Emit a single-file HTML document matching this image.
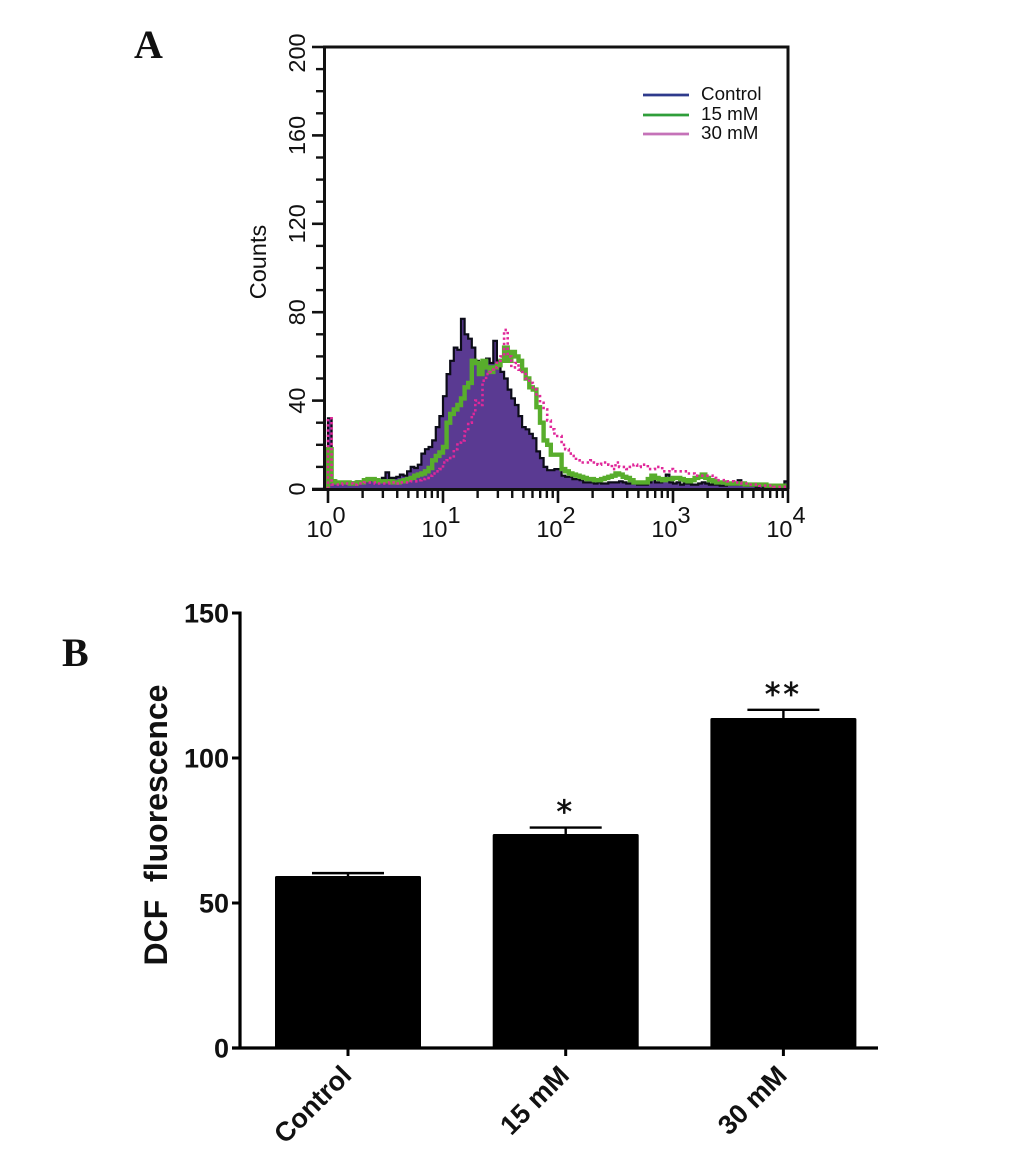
<!DOCTYPE html>
<html lang="en">
<head>
<meta charset="utf-8">
<title>DCF fluorescence flow cytometry chart</title>
<style>
  html, body { margin: 0; padding: 0; background: #fff; }
  svg { display: block; }
  text { font-family: "Liberation Sans", sans-serif; fill: #111; }
</style>
</head>
<body>
<svg id="chart" width="1033" height="1176" viewBox="0 0 1033 1176" xmlns="http://www.w3.org/2000/svg">
  <rect x="0" y="0" width="1033" height="1176" fill="#fff"/>
  <text x="134" y="58" style="font-family:'Liberation Serif',serif;font-weight:bold;font-size:40px">A</text>
  <text x="62" y="666" style="font-family:'Liberation Serif',serif;font-weight:bold;font-size:40px">B</text>
  <g id="panelA"></g>
  <g id="panelB"></g>
</svg>
<script>
// Panel A: histogram counts per channel (32 channels per decade)
const controlCounts = [32,4,3,3,3,3,3,3,3.5,3,3.5,4,4,4.5,3.5,5,7.5,5,5,5.5,6.5,6,8,10,9.5,11,16,18,19,22,28,33,42,52,58,64,63,77,70,68,64,58,57,56,59,57,67,58,53,50,45,41,38,33,28,27,25,23,17,14,10,8.5,8.5,9,9,6,5.5,5.5,4.5,4.5,4,3,3,3,2.5,3,2.5,2.5,3,3,3,3.5,3,2.5,2.5,2.5,2,2,2,3,5,3,3,4,6.5,3,2.5,3,2,2.5,2.5,2,2,2.5,3,2.5,2,2,2,1.5,1.5,2,2,2,4,2,1.5,1.5,1.5,1,1.5,1,1,1,1,1,1.5,3.5,2];
const greenCounts = [18,3.5,3,3,3,3,2.5,2.5,3,3,4,4.5,4.5,4,3.5,3.5,3.5,3.5,3,3,3.5,4,4.5,5,6,6.5,7,8,9.5,13,15,16.5,19,30,34,36,38,41,46,48,58,57,52,58,55,53,55,56,58,64,58,62,60,58,54,50,46,45,37,30,22,20,15.5,15.5,15.5,9,8,7,6.5,6,5.5,5,4.5,4.5,4,4,4.5,5,5.5,6,7,6.5,5.5,5,4,3,3,3,3,4.5,6,5,4.5,4,4.5,4.5,5,5,4.5,4,3.5,4,5,5.5,6.5,5,4,3.5,3,3,3,2.5,2.5,2.5,2.5,2.5,2,2,2,2,2,2,1.5,1.5,1.5,1.5,1.5,1.5];
const pinkCounts = [32,2,2,2,2.5,2.5,2.5,2,2.5,2.5,3,3,3,2.5,2.5,2.5,2.5,3,3,2.5,3,3,3,3.5,3.5,4,4.5,5,6,7,8,9,12,13,14,18,21,22,26,30,34,40,38,49,52,53,55,58,60,72,60,55,57,54,53,50,48,45,42,39,36,31,27,24,24,20,18,16,15,13,12,12,12,13,12,11,12,12,11,9,12,10,10,9,10,11,10,11,11,9,9,10,10,8,8,9,8,8,8,8,7,7,6,6,6,6,6,5,4,4,4,3.5,3.5,3,3,2.5,2.5,2,2,2,1.5,1.5,1.5,1.5,1,1,1,1];
const channelsPerDecade = [32];
const countTicks = [0,40,80,120,160,200];
const countMinorTicks = [10,20,30,50,60,70,90,100,110,130,140,150,170,180,190];
const decadeExponents = [0,1,2,3,4];
const legendLabels = ["Control","15 mM","30 mM"];

// Panel B: mean fluorescence with error bars
const barCategories = ["Control","15 mM","30 mM"];
const barValues = [59.3,73.8,113.8];
const barErrors = [1,2.2,2.8];
const barStars = ["","*","**"];
const barTicks = [0,50,100,150];

const NS = "http://www.w3.org/2000/svg";
const panelA = document.getElementById("panelA");
const panelB = document.getElementById("panelB");
function mk(parent, tag, attrs, txt) {
  const el = document.createElementNS(NS, tag);
  for (const k in attrs) el.setAttribute(k, attrs[k]);
  if (txt !== undefined) el.textContent = txt;
  parent.appendChild(el);
  return el;
}

// ---- Panel A axes ----
const xLog = v => 328 + v * 115;
const yCount = v => 489 - v * 2.21;
const xChannel = i => xLog(i / channelsPerDecade[0]);

function stepPath(values) {
  let d = "M" + xChannel(0) + " " + yCount(0);
  values.forEach((v, i) => {
    d += "L" + xChannel(i).toFixed(1) + " " + yCount(v).toFixed(1);
    d += "L" + Math.min(xChannel(i + 1), xLog(4)).toFixed(1) + " " + yCount(v).toFixed(1);
  });
  return d;
}
const endLine = " L" + xLog(4) + " " + yCount(0);

const controlFill = mk(panelA, "path", {d: stepPath(controlCounts) + endLine + "Z", fill: "#5a3a92", stroke: "none"});


const controlLine = mk(panelA, "path", {d: stepPath(controlCounts), fill: "none", stroke: "#0c0c18", "stroke-width": 2.2});


const greenLine = mk(panelA, "path", {d: stepPath(greenCounts), fill: "none", stroke: "#58ad2c", "stroke-width": 4.4});


const pinkLine = mk(panelA, "path", {d: stepPath(pinkCounts), fill: "none", stroke: "#e0289a", "stroke-width": 2.6, "stroke-dasharray": "2.4 2.8"});



const frame = mk(panelA, "path", {d: "M324.5 489V47H788V489", fill: "none", stroke: "#111", "stroke-width": 3});


const xAxisA = mk(panelA, "line", {x1: 312, x2: 789, y1: 489.5, y2: 489.5, stroke: "#111", "stroke-width": 3});



countTicks.forEach(t => {
  const tick = mk(panelA, "line", {x1: 312, x2: 324, y1: yCount(t), y2: yCount(t), stroke: "#111", "stroke-width": 2.6});
  
  
  const cy = t === 200 ? yCount(t) + 6 : yCount(t);
  const lab = mk(panelA, "text", {x: 0, y: 0, "text-anchor": "middle", "font-size": 23.5, transform: "translate(305 " + cy + ") rotate(-90)"}, String(t));
  
  
});
countMinorTicks.forEach(t => {
  const tick = mk(panelA, "line", {x1: 316, x2: 324, y1: yCount(t), y2: yCount(t), stroke: "#111", "stroke-width": 2.4});
  
  
});
decadeExponents.forEach(e => {
  const x = xLog(e);
  const tick = mk(panelA, "line", {x1: x, x2: x, y1: 489, y2: 503, stroke: "#111", "stroke-width": 2.6});
  
  
  const base = mk(panelA, "text", {x: x + 4.5, y: 537, "text-anchor": "end", "font-size": 23.5}, "10");
  
  
  const sup = mk(panelA, "text", {x: x + 4.5, y: 523, "font-size": 23.5}, String(e));
  
  
  if (e < 4) {
    for (let m = 2; m <= 9; m++) {
      const mx = xLog(e + Math.log10(m));
      const minor = mk(panelA, "line", {x1: mx, x2: mx, y1: 489, y2: 498, stroke: "#111", "stroke-width": 2.4});
      
      
    }
  }
});
const countsTitle = mk(panelA, "text", {x: 0, y: 0, "text-anchor": "middle", "font-size": 23.5, transform: "translate(266 262) rotate(-90)"}, "Counts");



const legendColors = ["#2e3a8c", "#2f9e3a", "#c572b8"];
const legendLineY = [95, 115, 134];
legendLabels.forEach((name, i) => {
  const ln = mk(panelA, "line", {x1: 643, x2: 689, y1: legendLineY[i], y2: legendLineY[i], stroke: legendColors[i], "stroke-width": 2.8});
  
  
  const tx = mk(panelA, "text", {x: 701, y: legendLineY[i] + 5, "font-size": 18.8}, name);
  
  
});

// ---- Panel B axes ----
const yFluor = v => 1048 - v * 2.9;
const xBar = i => 348 + i * 217.7;
const barWidth = 146;
barCategories.forEach((name, i) => {
  const cx = xBar(i);
  const err = yFluor(barValues[i] + barErrors[i]);
  const stem = mk(panelB, "line", {x1: cx, x2: cx, y1: err, y2: yFluor(barValues[i]), stroke: "#000", "stroke-width": 2.4});
  
  
  const cap = mk(panelB, "line", {x1: cx - 36, x2: cx + 36, y1: err, y2: err, stroke: "#000", "stroke-width": 2.4});
  
  
  const bar = mk(panelB, "rect", {x: cx - barWidth / 2, y: yFluor(barValues[i]), width: barWidth, height: yFluor(0) - yFluor(barValues[i]), rx: 1.5, fill: "#000"});
  
  
  const tick = mk(panelB, "line", {x1: cx, x2: cx, y1: 1048, y2: 1056, stroke: "#000", "stroke-width": 3});
  
  
  const lab = mk(panelB, "text", {x: 0, y: 0, "text-anchor": "end", "font-size": 27, "font-weight": "bold", transform: "translate(" + (cx + 5) + " 1077) rotate(-45)"}, name);
  
  
  if (barStars[i]) {
    const star = mk(panelB, "text", {x: cx, y: err - 5, "text-anchor": "middle", "font-size": 31, "letter-spacing": 3, stroke: "#111", "stroke-width": 0.7, style: "font-family:'DejaVu Sans',sans-serif"}, barStars[i]);
    
    
  }
});
const yAxisB = mk(panelB, "line", {x1: 240, x2: 240, y1: 611.5, y2: 1049.5, stroke: "#000", "stroke-width": 3.2});


const xAxisB = mk(panelB, "line", {x1: 232, x2: 878, y1: 1048, y2: 1048, stroke: "#000", "stroke-width": 3.2});


barTicks.forEach(t => {
  const tick = mk(panelB, "line", {x1: 232, x2: 240, y1: yFluor(t), y2: yFluor(t), stroke: "#000", "stroke-width": 3});
  
  
  const lab = mk(panelB, "text", {x: 229, y: yFluor(t) + 9.5, "text-anchor": "end", "font-size": 27, "font-weight": "bold"}, String(t));
  
  
});
const fluorTitle = mk(panelB, "text", {x: 0, y: 0, "text-anchor": "middle", "font-size": 32, "font-weight": "bold", style: "white-space:pre", transform: "translate(167 825) rotate(-90)"}, "DCF  fluorescence");


</script>
</body>
</html>
